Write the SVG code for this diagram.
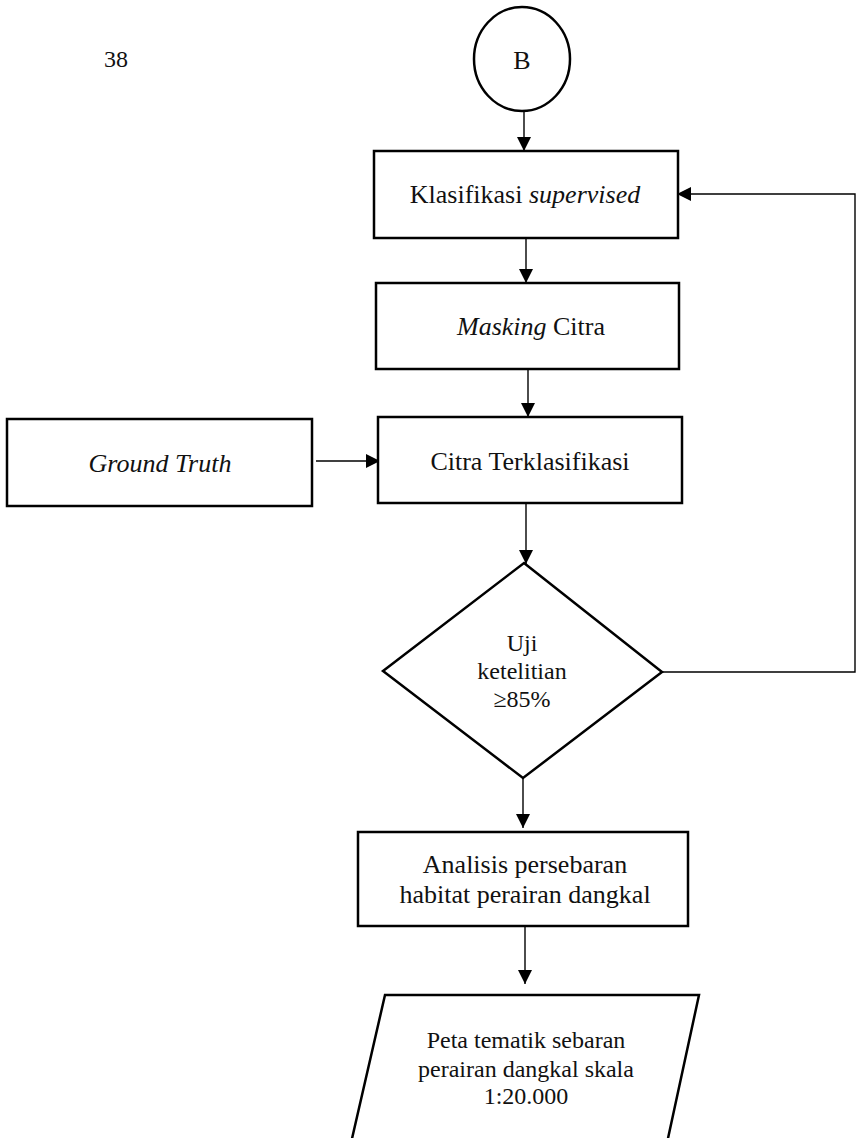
<svg xmlns="http://www.w3.org/2000/svg" width="856" height="1138" viewBox="0 0 856 1138" font-family="'Liberation Serif','Times New Roman',serif">
<style>
.shape{fill:#fff;stroke:#000;stroke-width:2.5}
.conn{fill:none;stroke:#000;stroke-width:1.4}
text{font-family:"Liberation Serif","Times New Roman",serif;fill:#111;text-anchor:middle}
.t26{font-size:26px}
.t24{font-size:24px}
.it{font-style:italic}
</style>
<defs>
<marker id="ah" viewBox="0 0 10 10" refX="10" refY="5" markerWidth="14" markerHeight="14" markerUnits="userSpaceOnUse" orient="auto">
<path d="M0,0 L10,5 L0,10 z" fill="#000"/>
</marker>
</defs>
<rect width="856" height="1138" fill="#fff"/>
<text x="116" y="67" class="t24">38</text>
<g id="connectors">
<line class="conn" x1="524" y1="111" x2="524" y2="151" marker-end="url(#ah)"/>
<line class="conn" x1="526" y1="238" x2="526" y2="283" marker-end="url(#ah)"/>
<line class="conn" x1="528" y1="369" x2="528" y2="417" marker-end="url(#ah)"/>
<line class="conn" x1="316" y1="461" x2="380" y2="461" marker-end="url(#ah)"/>
<line class="conn" x1="526" y1="504" x2="526" y2="564" marker-end="url(#ah)"/>
<line class="conn" x1="523" y1="778" x2="523" y2="828" marker-end="url(#ah)"/>
<line class="conn" x1="525" y1="926" x2="525" y2="984" marker-end="url(#ah)"/>
<polyline class="conn" points="662,672 855,672 855,194 677,194" marker-end="url(#ah)"/>
</g>
<g id="node-B">
<ellipse class="shape" cx="522" cy="59" rx="48" ry="52"/>
<text x="522" y="69" class="t26">B</text>
</g>
<g id="node-klasifikasi">
<rect class="shape" x="374" y="151" width="304" height="87"/>
<text x="525" y="203" class="t26">Klasifikasi <tspan class="it">supervised</tspan></text>
</g>
<g id="node-masking">
<rect class="shape" x="376" y="283" width="303" height="86"/>
<text x="531" y="335" class="t26"><tspan class="it">Masking</tspan> Citra</text>
</g>
<g id="node-groundtruth">
<rect class="shape" x="7" y="419" width="305" height="87"/>
<text x="160" y="472" class="t26 it">Ground Truth</text>
</g>
<g id="node-citra">
<rect class="shape" x="378" y="417" width="304" height="86"/>
<text x="530" y="470" class="t26">Citra Terklasifikasi</text>
</g>
<g id="node-uji">
<polygon class="shape" points="524,563 662,672 523,778 383,671"/>
<text x="522" y="651" class="t24">Uji</text>
<text x="522" y="679" class="t24">ketelitian</text>
<text x="522" y="707" class="t24">≥85%</text>
</g>
<g id="node-analisis">
<rect class="shape" x="358" y="832" width="330" height="94"/>
<text x="525" y="873" class="t26">Analisis persebaran</text>
<text x="525" y="903" class="t26">habitat perairan dangkal</text>
</g>
<g id="node-peta">
<polygon class="shape" points="385,995 699,995 667,1143 351,1143"/>
<text x="526" y="1048" class="t24">Peta tematik sebaran</text>
<text x="526" y="1077" class="t24">perairan dangkal skala</text>
<text x="526" y="1104" class="t24">1:20.000</text>
</g>
</svg>
